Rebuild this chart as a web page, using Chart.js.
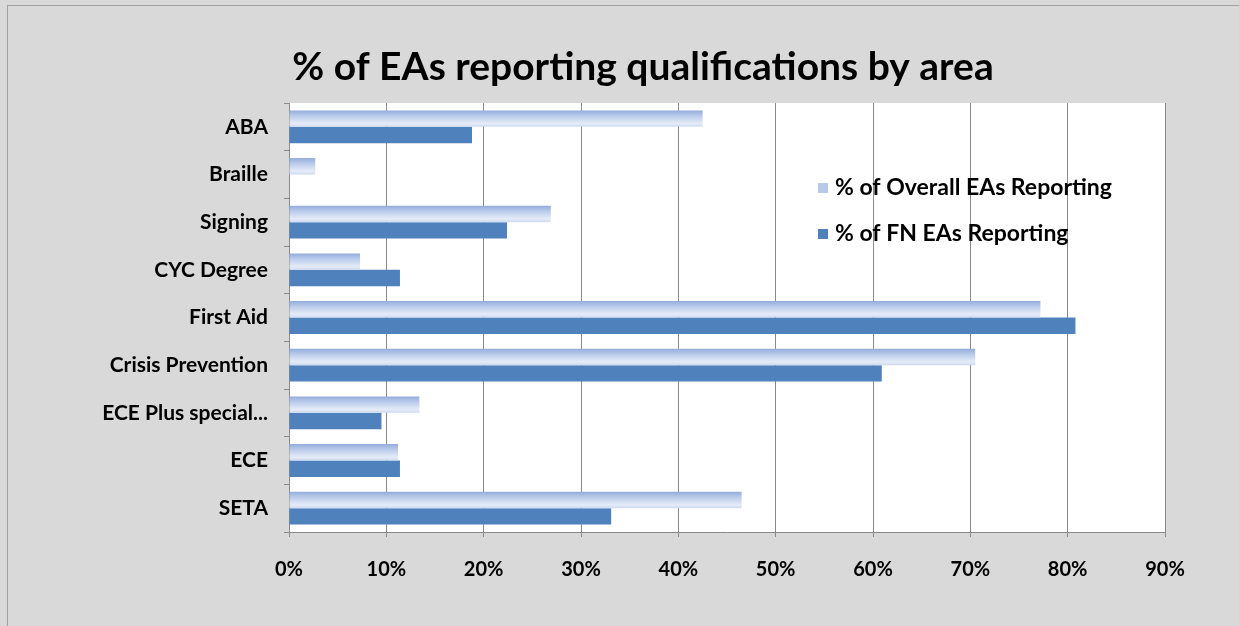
<!DOCTYPE html>
<html>
<head>
<meta charset="utf-8">
<script src="https://cdn.jsdelivr.net/npm/chart.js@4.4.1/dist/chart.umd.min.js"></script>
<style>
  html, body { margin: 0; padding: 0; background: #d9d9d9; }
  #wrap { position: relative; width: 1239px; height: 626px; }
</style>
</head>
<body>
<div id="wrap"><canvas id="qualChart"></canvas></div>
<script>
// data (percent)
const areas = ['ABA', 'Braille', 'Signing', 'CYC Degree', 'First Aid', 'Crisis Prevention', 'ECE Plus special...', 'ECE', 'SETA'];
const overallPct = [42.5, 2.7, 26.9, 7.3, 77.2, 70.5, 13.4, 11.2, 46.5];
const fnPct = [18.8, 0, 22.4, 11.4, 80.8, 60.9, 9.5, 11.4, 33.1];
const seriesNames = ['% of Overall EAs Reporting', '% of FN EAs Reporting'];
const chartTitle = '% of EAs reporting qualifications by area';
const xMax = 90;
const xStep = 10;

const FONT = 'Lato, "Open Sans", sans-serif';
const DARK_BLUE = '#4f81bd';
const GRID = '#8a8a8a';

// background, frame, white plot area and the title
const framePlugin = {
    id: 'frame',
    beforeDraw(chart) {
        const c = chart.ctx;
        const a = chart.chartArea;
        c.save();
        c.fillStyle = '#d9d9d9';
        c.fillRect(0, 0, chart.width, chart.height);
        c.strokeStyle = '#a0a0a0';
        c.lineWidth = 1;
        c.strokeRect(7.5, 5.5, chart.width + 10, chart.height + 10);
        c.fillStyle = '#ffffff';
        c.fillRect(a.left, a.top, a.right - a.left, a.bottom - a.top);
        c.fillStyle = '#000';
        c.font = 'bold 39px ' + FONT;
        c.textAlign = 'center';
        c.textBaseline = 'middle';
        c.fillText(chartTitle, 643, 67);
        c.restore();
    }
};

// vertical gradient on the light bars
const gradientPlugin = {
    id: 'barGradient',
    beforeDatasetsDraw(chart) {
        const c = chart.ctx;
        chart.getDatasetMeta(0).data.forEach(el => {
            const top = el.y - el.height / 2;
            const g = c.createLinearGradient(0, top, 0, top + el.height);
            g.addColorStop(0, '#93acda');
            g.addColorStop(0.3, '#b6c8e9');
            g.addColorStop(0.8, '#e5ecf8');
            g.addColorStop(1, '#cddaf0');
            el.options = Object.assign({}, el.options, { backgroundColor: g });
        });
    }
};

// legend drawn inside the plot area
const legendPlugin = {
    id: 'innerLegend',
    afterDatasetsDraw(chart) {
        const c = chart.ctx;
        const x = 818, rows = [188, 234];
        c.save();
        c.font = 'bold 23px ' + FONT;
        c.textBaseline = 'middle';
        c.textAlign = 'left';
        chart.data.datasets.forEach((ds, i) => {
            c.fillStyle = i === 0 ? '#b9cae9' : DARK_BLUE;
            c.fillRect(x, rows[i] - 5, 10, 10);
            c.fillStyle = '#000';
            c.fillText(ds.label, x + 17, rows[i]);
        });
        c.restore();
    }
};

const ctx = document.getElementById('qualChart').getContext('2d');
const qualChart = new Chart(ctx, {
    type: 'bar',
    data: {
        labels: areas,
        datasets: [
            {
                label: seriesNames[0],
                data: overallPct,
                backgroundColor: '#b9cae9',
                borderWidth: 0,
                categoryPercentage: 0.69,
                barPercentage: 1.0
            },
            {
                label: seriesNames[1],
                data: fnPct,
                backgroundColor: DARK_BLUE,
                borderWidth: 0,
                categoryPercentage: 0.69,
                barPercentage: 1.0
            }
        ]
    },
    options: {
        indexAxis: 'y',
        responsive: true,
        maintainAspectRatio: false,
        animation: false,
        layout: { padding: { left: 0, right: 74, top: 103, bottom: 0 } },
        plugins: {
            legend: { display: false },
            tooltip: { enabled: false },
            title: { display: false }
        },
        scales: {
            x: {
                min: 0,
                max: xMax,
                ticks: {
                    stepSize: xStep,
                    color: '#000',
                    padding: 21,
                    font: { family: FONT, size: 20, weight: 'bold' },
                    callback: v => v + '%'
                },
                grid: { color: GRID, lineWidth: 1, tickLength: 5 },
                border: { display: true, color: GRID },
                afterFit(scale) { scale.height = 94; }
            },
            y: {
                ticks: {
                    color: '#000',
                    padding: 16,
                    font: { family: FONT, size: 21, weight: 'bold' }
                },
                grid: { drawOnChartArea: false, color: GRID, tickLength: 5 },
                border: { display: true, color: GRID },
                afterFit(scale) { scale.width = 289; }
            }
        }
    },
    plugins: [framePlugin, gradientPlugin, legendPlugin]
});
</script>
</body>
</html>
